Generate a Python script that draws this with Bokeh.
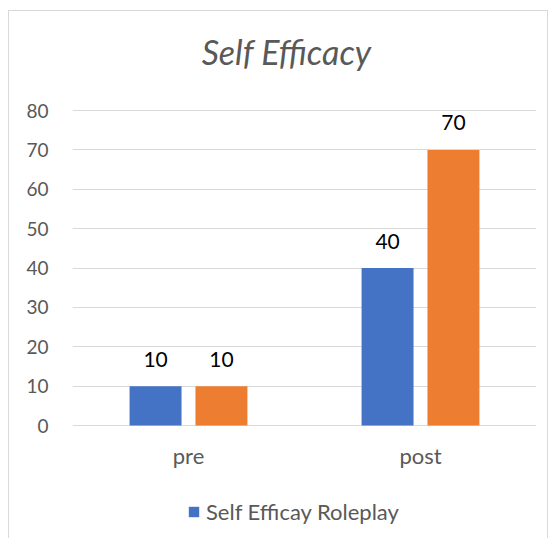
from bokeh.plotting import figure
from bokeh.models import ColumnDataSource, FactorRange, Range1d, FixedTicker, Legend, LegendItem
from bokeh.transform import dodge
from bokeh.core.properties import value
from bokeh.embed import file_html
from bokeh.resources import INLINE

categories = ["pre", "post"]
series_a = [10, 40]   # blue
series_b = [10, 70]   # orange
legend_label = "Self Efficay Roleplay"
title_text = "Self Efficacy"
y_ticks = [0, 10, 20, 30, 40, 50, 60, 70, 80]
y_max = 80

BLUE = "#4472C4"
ORANGE = "#ED7D31"
GRAY = "#595959"
GRID = "#d9d9d9"
FONT = "Lato"

src = ColumnDataSource(dict(
    cat=categories,
    zero=[0, 0],
    a=series_a,
    b=series_b,
    a_lbl=[str(v) for v in series_a],
    b_lbl=[str(v) for v in series_b],
))

# px per unit: 315 px for 0..80 ; frame extended above (title) and below (labels, legend)
ppu = 315 / 80
p = figure(
    x_range=FactorRange(factors=categories, range_padding=0),
    y_range=Range1d(-105 / ppu, 80 + 99 / ppu),
    frame_width=464, frame_height=519,
    x_axis_location=None, title_location=None,
    output_backend="svg", toolbar_location=None,
    min_border_left=63, min_border_right=11,
    min_border_top=0, min_border_bottom=8,
)
p.styles = {"border-top": "1px solid #d9d9d9", "border-left": "1px solid #d9d9d9",
            "border-right": "1px solid #d9d9d9", "margin-top": "10px", "margin-left": "8px"}

off = 0.142
bw = 0.224
ra = p.vbar(x=dodge("cat", -off, range=p.x_range), top="a", width=bw, source=src,
            fill_color=BLUE, line_color=None)
rb = p.vbar(x=dodge("cat", off, range=p.x_range), top="b", width=bw, source=src,
            fill_color=ORANGE, line_color=None)

p.text(x=dodge("cat", -off, range=p.x_range), y="a", text="a_lbl", source=src,
       text_align="center", text_baseline="alphabetic", y_offset=-27,
       text_font=value(FONT), text_font_size="21px", text_color="#000000")
p.text(x=dodge("cat", off, range=p.x_range), y="b", text="b_lbl", source=src,
       text_align="center", text_baseline="alphabetic", y_offset=-27,
       text_font=value(FONT), text_font_size="21px", text_color="#000000")

# category labels
p.text(x="cat", y="zero", text="cat", source=src,
       text_align="center", text_baseline="alphabetic", y_offset=30,
       text_font=value(FONT), text_font_size="22px", text_color=GRAY)

# chart title, centred slightly left of the plot area, above the top gridline
p.text(x=[1.0], y=[y_max], text=[title_text],
       text_align="center", text_baseline="alphabetic", x_offset=-18, y_offset=-59,
       text_font=value(FONT), text_font_style="italic", text_font_size="34px",
       text_color=GRAY)

p.outline_line_color = None
p.xgrid.grid_line_color = None
p.ygrid.grid_line_color = GRID
p.ygrid.grid_line_width = 1

p.yaxis.ticker = FixedTicker(ticks=y_ticks)
p.yaxis.axis_line_color = None
p.yaxis.major_tick_line_color = None
p.yaxis.minor_tick_line_color = None
p.yaxis.major_tick_out = 0
p.yaxis.major_label_standoff = 24
p.yaxis.major_label_text_font = FONT
p.yaxis.major_label_text_font_size = "19px"
p.yaxis.major_label_text_color = GRAY

legend = Legend(items=[LegendItem(label=legend_label, renderers=[ra])],
                location=(115, 5), orientation="horizontal",
                glyph_width=13, glyph_height=13,
                label_text_font=FONT, label_text_font_size="22px",
                label_text_color=GRAY, border_line_color=None,
                background_fill_alpha=0, margin=0, padding=0, label_standoff=6)
p.add_layout(legend, "center")

open("out.html", "w").write(file_html(p, INLINE))
